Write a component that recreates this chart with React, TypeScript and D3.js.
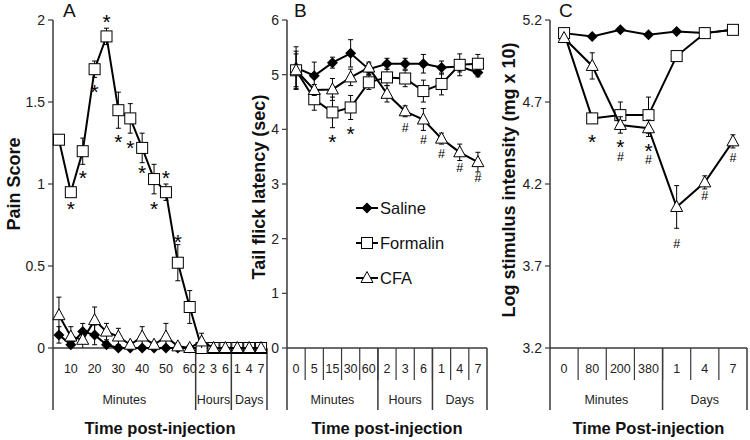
import React from 'react';
import * as d3 from 'd3';

// ---------- DATA ----------
const A_CATS = ["5", "10", "15", "20", "25", "30", "35", "40", "45", "50", "55", "60", "2", "3", "6", "1", "4", "7"];
const A_TICK_LABELS = ["", "10", "", "20", "", "30", "", "40", "", "50", "", "60", "2", "3", "6", "1", "4", "7"];
const A_GROUPS = [["Minutes", 0, 12], ["Hours", 12, 15], ["Days", 15, 18]];
const A_Y_TICKS = [0, 0.5, 1, 1.5, 2];
const A_SALINE = [0.08, 0.02, 0.1, 0.08, 0.02, 0, 0, 0, 0, 0, 0, 0, 0, 0, 0, 0, 0, 0];
const A_SALINE_ERR = [0.05, 0.02, 0.05, 0.06, 0.02, 0, 0, 0, 0, 0, 0, 0, 0, 0, 0, 0, 0, 0];
const A_FORMALIN = [1.27, 0.95, 1.2, 1.7, 1.9, 1.45, 1.4, 1.22, 1.03, 0.95, 0.52, 0.25, 0, 0, 0, 0, 0, 0];
const A_FORMALIN_ERR = [0.03, 0.02, 0.08, 0.05, 0.05, 0.11, 0.09, 0.09, 0.09, 0.05, 0.11, 0.1, 0, 0, 0, 0, 0, 0];
const A_CFA = [0.2, 0.07, 0.05, 0.17, 0.1, 0.07, 0.02, 0.07, 0.02, 0.07, 0.01, 0, 0.04, 0, 0, 0, 0, 0];
const A_CFA_ERR = [0.11, 0.06, 0.05, 0.08, 0.05, 0.05, 0.02, 0.06, 0.02, 0.08, 0.02, 0, 0.05, 0, 0, 0, 0, 0];
// annotation: [category index, value level, symbol]
const A_NOTES = [[1, 0.88, "*"], [2, 1.07, "*"], [3, 1.59, "*"], [4, 2.02, "*"], [5, 1.29, "*"], [6, 1.25, "*"], [7, 1.1, "*"], [8, 0.88, "*"], [9, 1.07, "*"], [10, 0.68, "*"]];

const B_CATS = ["0", "5", "15", "30", "60", "2", "3", "6", "1", "4", "7"];
const B_GROUPS = [["Minutes", 0, 5], ["Hours", 5, 8], ["Days", 8, 11]];
const B_Y_TICKS = [0, 1, 2, 3, 4, 5, 6];
const B_SALINE = [5.13, 4.98, 5.22, 5.39, 5.1, 5.2, 5.2, 5.2, 5.13, 5.15, 5.04];
const B_SALINE_ERR = [0.38, 0.25, 0.1, 0.25, 0.1, 0.1, 0.1, 0.17, 0.12, 0.1, 0.08];
const B_FORMALIN = [5.08, 4.55, 4.31, 4.4, 4.86, 4.95, 4.93, 4.7, 4.83, 5.18, 5.2];
const B_FORMALIN_ERR = [0.3, 0.2, 0.28, 0.22, 0.13, 0.15, 0.15, 0.2, 0.2, 0.2, 0.17];
const B_CFA = [5.08, 4.72, 4.73, 4.95, 5.13, 4.65, 4.33, 4.18, 3.83, 3.58, 3.4];
const B_CFA_ERR = [0.35, 0.1, 0.2, 0.15, 0.1, 0.15, 0.1, 0.2, 0.1, 0.15, 0.18];
const B_NOTES = [[2, 3.87, "*"], [3, 4.01, "*"], [6, 4.03, "#"], [7, 3.81, "#"], [8, 3.56, "#"], [9, 3.3, "#"], [10, 3.12, "#"]];

const C_CATS = ["0", "80", "200", "380", "1", "4", "7"];
const C_GROUPS = [["Minutes", 0, 4], ["Days", 4, 7]];
const C_Y_TICKS = [3.2, 3.7, 4.2, 4.7, 5.2];
const C_SALINE = [5.12, 5.1, 5.14, 5.11, 5.13, 5.12, 5.14];
const C_SALINE_ERR = [0.01, 0.01, 0.01, 0.01, 0.01, 0.01, 0.01];
const C_FORMALIN = [5.12, 4.6, 4.62, 4.62, 4.98, 5.12, 5.14];
const C_FORMALIN_ERR = [0.01, 0.03, 0.08, 0.11, 0.01, 0.01, 0.01];
const C_CFA = [5.09, 4.92, 4.56, 4.54, 4.06, 4.21, 4.46];
const C_CFA_ERR = [0.01, 0.08, 0.05, 0.05, 0.13, 0.04, 0.04];
const C_NOTES = [[1, 4.49, "*"], [2, 4.46, "*"], [2, 4.37, "#"], [3, 4.43, "*"], [3, 4.35, "#"], [4, 3.84, "#"], [5, 4.13, "#"], [6, 4.36, "#"]];

const LEGEND = ["Saline", "Formalin", "CFA"];

// ---------- STYLE ----------
const FONT = "'Liberation Sans', Arial, Helvetica, sans-serif";
const AXIS = "#3a3a3a";
const STAR_FS = 21;
const HASH_FS = 12.5;

function Marker({ kind, x, y }: { kind: string; x: number; y: number }) {
  if (kind === "diamond") {
    return <path d={`M${x},${y - 5.5}L${x + 5.5},${y}L${x},${y + 5.5}L${x - 5.5},${y}Z`} fill="#000" />;
  }
  if (kind === "square") {
    return <rect x={x - 5.5} y={y - 5.5} width={11} height={11} fill="#fff" stroke="#000" strokeWidth={1} />;
  }
  return <path d={`M${x},${y - 6.5}L${x + 6},${y + 4.5}L${x - 6},${y + 4.5}Z`} fill="#fff" stroke="#000" strokeWidth={1} />;
}

function Panel(props: any) {
  const { cats, tickLabels, groups, yTicks, yFmt, series, notes, x0, x1, yDomain, yTitle, yTitleX, yTitleY, letter, letterX, xTitle, minorTicks } = props;
  const top = 20, bottom = 348;
  const x = d3.scaleBand<number>().domain(cats.map((_: any, i: number) => i)).range([x0, x1]).paddingInner(0).paddingOuter(0);
  const y = d3.scaleLinear().domain(yDomain).range([bottom, top]);
  const cx = (i: number) => (x(i) as number) + x.bandwidth() / 2;
  const line = d3.line<number>().x((_, i) => cx(i)).y(d => y(d));
  // group annotations by category so stacked symbols form one text
  const grouped = d3.groups(notes as any[], (n: any) => n[0]);
  const baseY = (n: any) => n[2] === "*" ? y(n[1]) + STAR_FS * 0.58 : y(n[1]) + HASH_FS * 0.36;
  return (
    <g>
      {/* y axis */}
      <line x1={x0} x2={x0} y1={top} y2={410} stroke={AXIS} strokeWidth={1.5} />
      {yTicks.map((t: number) => (
        <g key={t}>
          <line x1={x0 - 5} x2={x0} y1={y(t)} y2={y(t)} stroke={AXIS} strokeWidth={1.2} />
          <text x={x0 - 8} y={y(t)} dy="0.35em" textAnchor="end" fontSize={14} fill="#222">{yFmt(t)}</text>
        </g>
      ))}
      {/* x axis */}
      <line x1={x0} x2={x1} y1={bottom} y2={bottom} stroke={AXIS} strokeWidth={1.5} />
      {minorTicks && cats.map((_: any, i: number) => i > 0 ? (
        <line key={i} x1={x(i)} x2={x(i)} y1={bottom} y2={380} stroke={AXIS} strokeWidth={1.2} />
      ) : null)}
      {groups.map((g: any) => (
        <g key={g[0]}>
          <line x1={(x(g[2]) ?? x1)} x2={(x(g[2]) ?? x1)} y1={bottom} y2={410} stroke={AXIS} strokeWidth={1.5} />
          <text x={((x(g[1]) as number) + ((x(g[2]) ?? x1) as number)) / 2} y={400} dy="0.35em" textAnchor="middle" fontSize={12.5} fill="#222">{g[0]}</text>
        </g>
      ))}
      {cats.map((c: string, i: number) => (
        <text key={i} x={cx(i)} y={369} dy="0.35em" textAnchor="middle" fontSize={12.5} fill="#222">{tickLabels ? tickLabels[i] : c}</text>
      ))}
      <text x={(x0 + x1) / 2} y={428} dy="0.35em" textAnchor="middle" fontSize={16.5} fontWeight="bold" fill="#111">{xTitle}</text>
      <text transform={`translate(${yTitleX},${yTitleY}) rotate(-90)`} textAnchor="middle" fontSize={18} fontWeight="bold" fill="#111">{yTitle}</text>
      <text x={letterX} y={17} fontSize={19} fill="#111">{letter}</text>
      {/* series */}
      {series.map((s: any, si: number) => (
        <g key={si}>
          <path d={line(s.values) as string} fill="none" stroke="#000" strokeWidth={2} />
          {s.values.map((v: number, i: number) => s.err[i] > 0 ? (
            <g key={i} stroke="#000" strokeWidth={1}>
              <line x1={cx(i)} x2={cx(i)} y1={y(Math.min(yDomain[1], v + s.err[i]))} y2={y(Math.max(yDomain[0], v - s.err[i]))} />
              <line x1={cx(i) - 2.5} x2={cx(i) + 2.5} y1={y(v + s.err[i])} y2={y(v + s.err[i])} />
              {v - s.err[i] > yDomain[0] && <line x1={cx(i) - 2.5} x2={cx(i) + 2.5} y1={y(v - s.err[i])} y2={y(v - s.err[i])} />}
            </g>
          ) : null)}
          {s.values.map((v: number, i: number) => <Marker key={i} kind={s.kind} x={cx(i)} y={y(v)} />)}
        </g>
      ))}
      {grouped.map(([cat, list]: any) => (
        <text key={cat} textAnchor="middle" fill="#000">
          {list.map((n: any, k: number) => (
            <tspan key={k} x={cx(n[0])} y={baseY(n)} fontSize={n[2] === "*" ? STAR_FS : HASH_FS}>{n[2]}</tspan>
          ))}
        </text>
      ))}
    </g>
  );
}

export default function App() {
  const kinds = ["diamond", "square", "triangle"];
  return (
    <svg width={750} height={440} style={{ position: "absolute", left: 0, top: 0, background: "#fff" }} fontFamily={FONT}>
      <rect width={750} height={440} fill="#fff" />
      <Panel cats={A_CATS} tickLabels={A_TICK_LABELS} groups={A_GROUPS} yTicks={A_Y_TICKS} yFmt={(t: number) => String(t)}
        series={[{ kind: "diamond", values: A_SALINE, err: A_SALINE_ERR }, { kind: "square", values: A_FORMALIN, err: A_FORMALIN_ERR }, { kind: "triangle", values: A_CFA, err: A_CFA_ERR }]}
        notes={A_NOTES} x0={53} x1={267} yDomain={[0, 2]} yTitle="Pain Score" yTitleX={20} yTitleY={184}
        letter="A" letterX={63} xTitle="Time post-injection" minorTicks={false} />
      <Panel cats={B_CATS} groups={B_GROUPS} yTicks={B_Y_TICKS} yFmt={(t: number) => String(t)}
        series={[{ kind: "diamond", values: B_SALINE, err: B_SALINE_ERR }, { kind: "square", values: B_FORMALIN, err: B_FORMALIN_ERR }, { kind: "triangle", values: B_CFA, err: B_CFA_ERR }]}
        notes={B_NOTES} x0={287} x1={487} yDomain={[0, 6]} yTitle="Tail flick latency (sec)" yTitleX={265} yTitleY={187}
        letter="B" letterX={294} xTitle="Time post-injection" minorTicks={true} />
      <Panel cats={C_CATS} groups={C_GROUPS} yTicks={C_Y_TICKS} yFmt={(t: number) => t.toFixed(1)}
        series={[{ kind: "diamond", values: C_SALINE, err: C_SALINE_ERR }, { kind: "square", values: C_FORMALIN, err: C_FORMALIN_ERR }, { kind: "triangle", values: C_CFA, err: C_CFA_ERR }]}
        notes={C_NOTES} x0={550} x1={747} yDomain={[3.2, 5.2]} yTitle="Log stimulus intensity (mg x 10)" yTitleX={515} yTitleY={180}
        letter="C" letterX={559} xTitle="Time Post-injection" minorTicks={true} />
      {/* legend */}
      {LEGEND.map((name, i) => (
        <g key={name}>
          <line x1={356} x2={378} y1={208 + i * 35} y2={208 + i * 35} stroke="#000" strokeWidth={2} />
          <Marker kind={kinds[i]} x={367} y={208 + i * 35} />
          <text x={380} y={208 + i * 35} dy="0.35em" fontSize={16.5} fill="#111">{name}</text>
        </g>
      ))}
    </svg>
  );
}
